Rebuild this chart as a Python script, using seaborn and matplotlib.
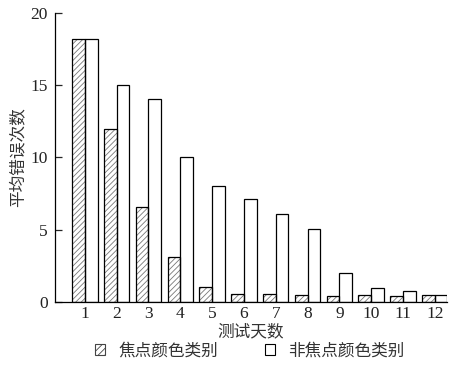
import matplotlib
matplotlib.use("Agg")
import matplotlib.pyplot as plt
import seaborn as sns
import pandas as pd
from matplotlib.patches import Rectangle, Patch

days = ["1", "2", "3", "4", "5", "6", "7", "8", "9", "10", "11", "12"]
focal = [18.2, 12.0, 6.55, 3.1, 1.0, 0.55, 0.55, 0.48, 0.4, 0.48, 0.4, 0.48]
nonfocal = [18.2, 15.0, 14.05, 10.05, 8.05, 7.1, 6.1, 5.05, 2.0, 0.95, 0.75, 0.48]
series = ["焦点颜色类别", "非焦点颜色类别"]

sns.set_theme(style="ticks")
plt.rcParams['font.family'] = ['Noto Sans CJK SC', 'DejaVu Sans']
plt.rcParams['hatch.linewidth'] = 0.6
plt.rcParams['hatch.color'] = '#777777'

df = pd.DataFrame({
    "day": days * 2,
    "value": focal + nonfocal,
    "series": [series[0]] * len(days) + [series[1]] * len(days),
})

fig = plt.figure(figsize=(4.5, 3.65), dpi=100)
ax = fig.add_axes([0.122, 0.173, 0.871, 0.791])

sns.barplot(data=df, x="day", y="value", hue="series", order=days,
            hue_order=series, palette=["white", "white"], width=0.8,
            edgecolor="black", linewidth=0.9, ax=ax, legend=False)

n = len(days)
for i, p in enumerate(ax.patches[:n]):
    p.set_hatch("//////")
    p.set_edgecolor("#777777")
    p.set_linewidth(0)
    ax.add_patch(Rectangle(p.get_xy(), p.get_width(), p.get_height(),
                           fill=False, edgecolor="black", linewidth=0.9, zorder=p.get_zorder() + 0.1))

ax.set_ylim(0, 20)
ax.set_xlim(-0.94, 11.38)
ax.set_yticks([0, 5, 10, 15, 20])
serif = ['Liberation Serif', 'DejaVu Serif']
ax.set_yticklabels(["0", "5", "10", "15", "20"], family=serif, fontsize=12.5, color="#222222")
ax.set_xticks(range(n))
ax.set_xticklabels(days, family=serif, fontsize=12.5, color="#222222")
ax.tick_params(axis='y', direction='in', length=5, width=0.9, pad=5)
ax.tick_params(axis='x', length=0, pad=3)
for s in ["top", "right"]:
    ax.spines[s].set_visible(False)
for s in ["left", "bottom"]:
    ax.spines[s].set_linewidth(0.9)
    ax.spines[s].set_color("black")

ax.set_xlabel("测试天数", fontsize=12, color="#333333", labelpad=1)
ax.set_ylabel("平均错误次数", fontsize=12, color="#333333", labelpad=3)

handles = [Patch(facecolor="white", edgecolor="#444444", hatch="/////", linewidth=0.8),
           Patch(facecolor="white", edgecolor="black", linewidth=0.8)]
fig.legend(handles, series, loc="lower center", bbox_to_anchor=(0.555, -0.025), ncol=2,
           frameon=False, fontsize=12, handlelength=0.6, handleheight=0.6,
           handletextpad=0.8, columnspacing=2.8, labelcolor="#333333")

fig.savefig("out.png", dpi=100)
